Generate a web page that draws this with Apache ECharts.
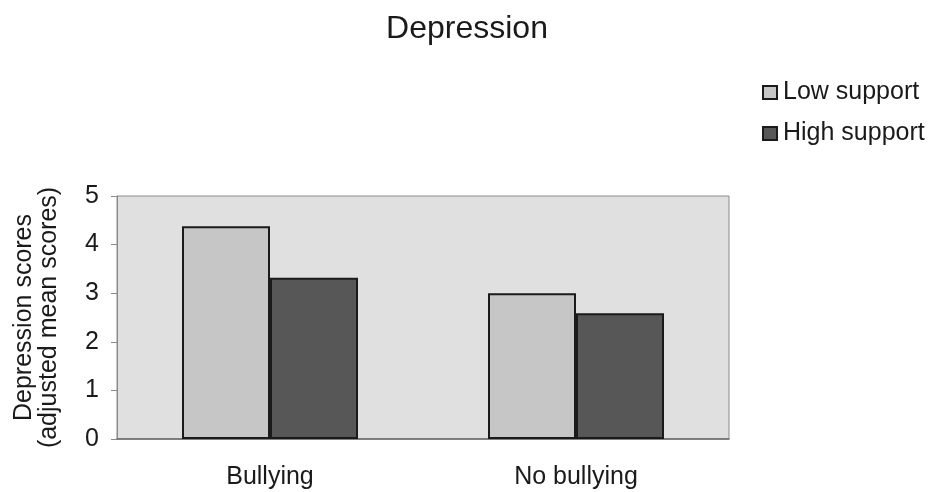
<!DOCTYPE html>
<html>
<head>
<meta charset="utf-8">
<script src="https://cdn.jsdelivr.net/npm/echarts@6/dist/echarts.min.js"></script>
<style>
html,body{margin:0;padding:0;background:#fff;}
#chart{width:933px;height:492px;}
</style>
</head>
<body>
<div id="chart"></div>
<script>
var categories = ["Bullying", "No bullying"];
var lowSupport = [4.38, 3.00];
var highSupport = [3.32, 2.59];
var yTicks = [0, 1, 2, 3, 4, 5];

var FONT = "'Liberation Sans', Arial, sans-serif";
var chart = echarts.init(document.getElementById('chart'));
chart.setOption({
  animation: false,
  backgroundColor: '#ffffff',
  title: {
    text: 'Depression',
    left: 462, top: 8, textAlign: 'center',
    textStyle: {fontFamily: FONT, fontSize: 32, fontWeight: 'normal', color: '#1a1a1a'}
  },
  legend: {
    orient: 'vertical',
    left: 757, top: 75,
    itemWidth: 14, itemHeight: 13, itemGap: 16,
    icon: 'rect',
    textStyle: {fontFamily: FONT, fontSize: 25, color: '#1a1a1a', padding: [0,0,0,1]},
    data: ['Low support', 'High support']
  },
  grid: {
    left: 117, right: 204, top: 196, bottom: 53,
    show: true, backgroundColor: '#e0e0e0', borderColor: '#8a8a8a', borderWidth: 1
  },
  xAxis: {
    type: 'category',
    data: categories,
    axisLine: {lineStyle: {color: '#6a6a6a', width: 1.5}},
    axisTick: {show: false},
    axisLabel: {fontFamily: FONT, fontSize: 25, color: '#1a1a1a', margin: 26}
  },
  yAxis: {
    type: 'value',
    min: yTicks[0], max: yTicks[yTicks.length - 1], interval: 1,
    name: 'Depression scores\n(adjusted mean scores)',
    nameLocation: 'middle',
    nameGap: 55,
    nameTextStyle: {fontFamily: FONT, fontSize: 25, color: '#1a1a1a', lineHeight: 25},
    axisLine: {show: true, lineStyle: {color: '#8a8a8a', width: 1}},
    axisTick: {show: true, length: 6, lineStyle: {color: '#8a8a8a'}},
    splitLine: {show: false},
    axisLabel: {fontFamily: FONT, fontSize: 25, color: '#1a1a1a', margin: 18}
  },
  series: [
    {
      name: 'Low support', type: 'bar', data: lowSupport,
      barWidth: 88, barGap: '0%',
      itemStyle: {color: '#c6c6c6', borderColor: '#1a1a1a', borderWidth: 2}
    },
    {
      name: 'High support', type: 'bar', data: highSupport,
      barWidth: 88, barGap: '0%',
      itemStyle: {color: '#575757', borderColor: '#1a1a1a', borderWidth: 2}
    }
  ]
});
</script>
</body>
</html>
